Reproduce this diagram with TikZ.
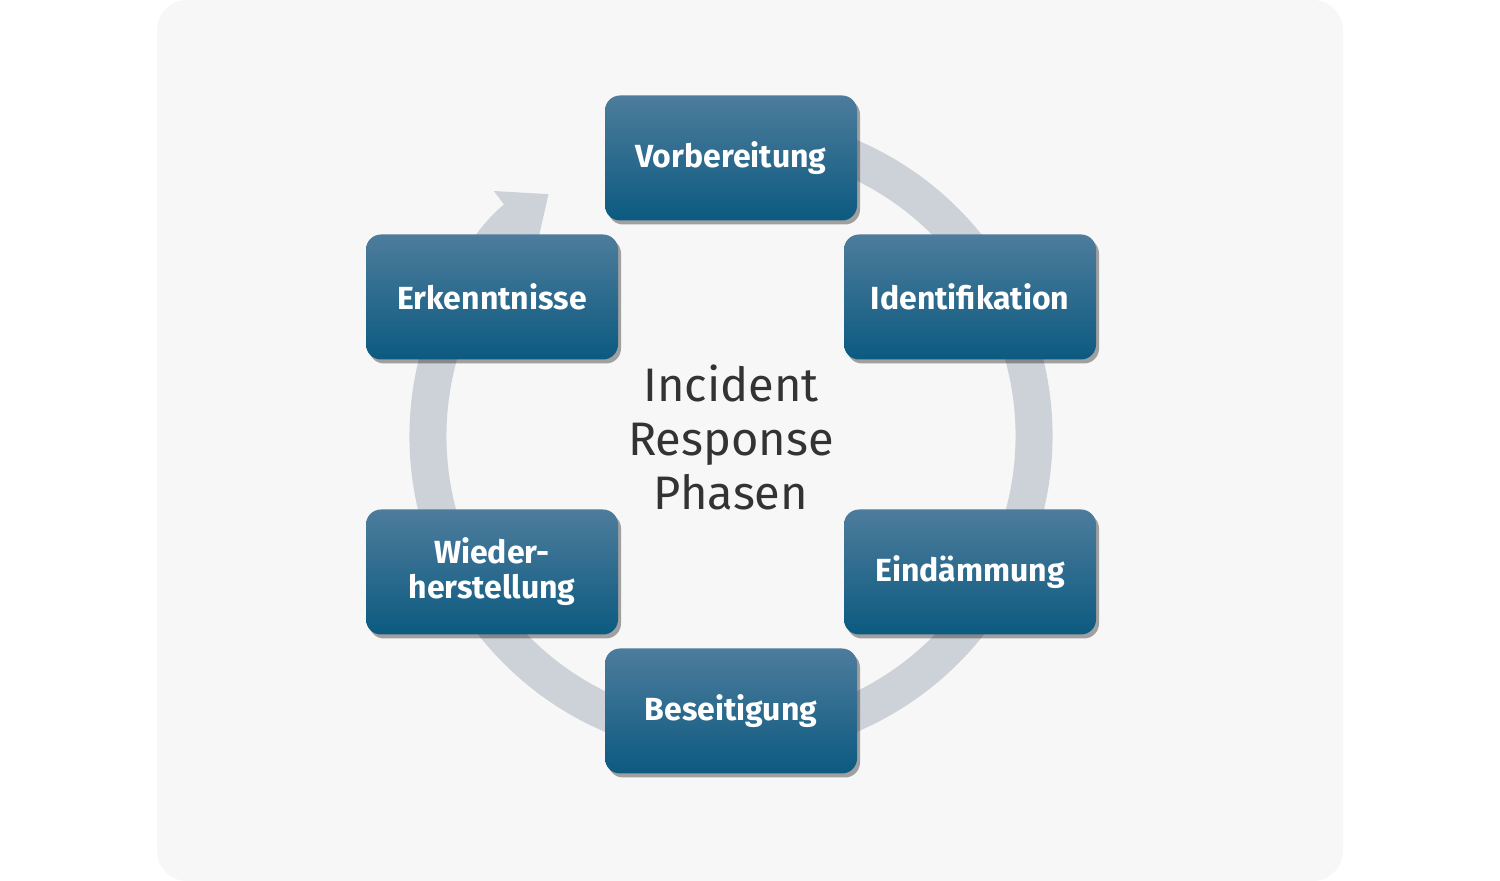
\documentclass[tikz,border=0pt]{standalone}
\usepackage{fontspec}
\setmainfont{Fira Sans}
\usetikzlibrary{arrows.meta,shadows}
\definecolor{bg}{HTML}{F7F7F7}
\definecolor{ring}{HTML}{CDD2D9}
\definecolor{btop}{HTML}{4D7C9C}
\definecolor{bbot}{HTML}{0C5A80}
\definecolor{ctext}{HTML}{333333}
\tikzset{
  phase/.style={rectangle, rounded corners=7.5pt, minimum width=126pt, minimum height=62.5pt,
    top color=btop, bottom color=bbot, text=white, align=center,
    font=\fontsize{16}{17.5}\selectfont\bfseries,
    drop shadow={shadow xshift=1.5pt, shadow yshift=-2pt, opacity=0.35, fill=black}},
}
\begin{document}
\begin{tikzpicture}[x=0.5pt,y=-0.5pt]
\useasboundingbox (0,0) rectangle (1500,881);
\fill[bg, rounded corners=15pt] (157,0) rectangle (1343,881);
\draw[ring, line width=18.5pt, -{Triangle[length=21pt,width=34pt]}]
  ([shift={(-80:303)}]731,436) arc[start angle=-80, end angle=233, radius=303];
\node[phase] (v) at (731,158) {Vorbereitung};
\node[phase] (i) at (970,297) {Identifikation};
\node[phase] (e) at (492,297) {Erkenntnisse};
\node[phase] (d) at (970,572) {Eindämmung};
\node[phase] (w) at (492,572) {Wieder-\\herstellung};
\node[phase] (b) at (731,711) {Beseitigung};
\node[text=ctext, align=center, font=\fontsize{23.5}{27}\selectfont] (c) at (731,437) {Incident\\Response\\Phasen};
\end{tikzpicture}
\end{document}
